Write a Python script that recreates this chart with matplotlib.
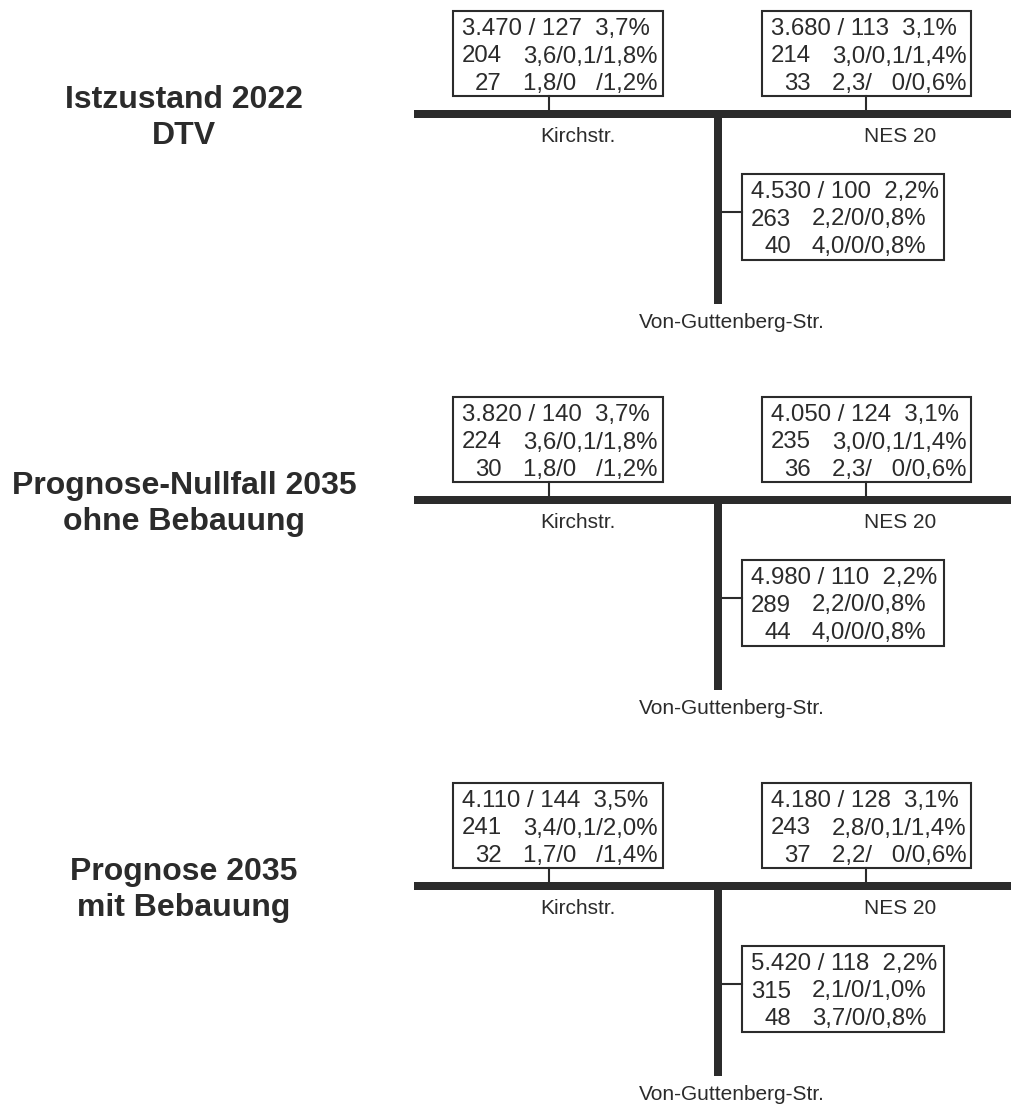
import matplotlib.pyplot as plt
from matplotlib.patches import Rectangle

plt.rcParams['font.family'] = ['Liberation Sans', 'DejaVu Sans']

INK = '#2b2b2b'

# section titles
titles = [("Istzustand 2022", "DTV"),
          ("Prognose-Nullfall 2035", "ohne Bebauung"),
          ("Prognose 2035", "mit Bebauung")]

# street names
street_names = ["Kirchstr.", "NES 20", "Von-Guttenberg-Str."]

# Kirchstr. box, one entry per section
kirch_row1 = ["3.470 / 127  3,7%", "3.820 / 140  3,7%", "4.110 / 144  3,5%"]
kirch_n2 = ["204", "224", "241"]
kirch_r2 = ["3,6/0,1/1,8%", "3,6/0,1/1,8%", "3,4/0,1/2,0%"]
kirch_n3 = ["27", "30", "32"]
kirch_r3 = ["1,8/0   /1,2%", "1,8/0   /1,2%", "1,7/0   /1,4%"]

# NES 20 box
nes_row1 = ["3.680 / 113  3,1%", "4.050 / 124  3,1%", "4.180 / 128  3,1%"]
nes_n2 = ["214", "235", "243"]
nes_r2 = ["3,0/0,1/1,4%", "3,0/0,1/1,4%", "2,8/0,1/1,4%"]
nes_n3 = ["33", "36", "37"]
nes_r3 = ["2,3/   0/0,6%", "2,3/   0/0,6%", "2,2/   0/0,6%"]

# Von-Guttenberg-Str. box
vg_row1 = ["4.530 / 100  2,2%", "4.980 / 110  2,2%", "5.420 / 118  2,2%"]
vg_n2 = ["263", "289", "315"]
vg_r2 = ["2,2/0/0,8%", "2,2/0/0,8%", "2,1/0/1,0%"]
vg_n3 = ["40", "44", "48"]
vg_r3 = ["4,0/0/0,8%", "4,0/0/0,8%", "3,7/0/0,8%"]

fig = plt.figure(figsize=(10.11, 11.04), dpi=100)
ax = fig.add_axes([0, 0, 1, 1])
ax.set_xlim(0, 1011)
ax.set_ylim(1104, 0)
ax.axis('off')

SEC = 386  # vertical distance between the three diagrams


def draw_box(x, y, w, h, row1, n2, r2, n3, r3):
    ax.add_patch(Rectangle((x, y), w, h, fill=False, ec=INK, lw=1.5))
    fs = 17.3
    tx = x + 9
    ax.text(tx, y + 24, row1, fontsize=fs, color=INK, va='baseline', ha='left')
    ax.text(x + 49, y + 51.5, n2, fontsize=fs, color=INK, va='baseline', ha='right')
    ax.text(x + 70, y + 51.5, r2, fontsize=fs, color=INK, va='baseline', ha='left')
    ax.text(x + 49, y + 79, n3, fontsize=fs, color=INK, va='baseline', ha='right')
    ax.text(x + 70, y + 79, r3, fontsize=fs, color=INK, va='baseline', ha='left')


for i in range(3):
    oy = i * SEC

    # title
    ax.text(184, oy + 108, titles[i][0], fontsize=23, fontweight='bold',
            color=INK, ha='center', va='baseline')
    ax.text(184, oy + 144, titles[i][1], fontsize=23, fontweight='bold',
            color=INK, ha='center', va='baseline')

    # roads
    ax.add_patch(Rectangle((414, oy + 110), 1011 - 414, 8, color=INK, lw=0))
    ax.add_patch(Rectangle((714, oy + 117), 8, 187, color=INK, lw=0))

    # connectors
    ax.plot([549, 549], [oy + 96, oy + 110], color=INK, lw=1.5)
    ax.plot([866, 866], [oy + 96, oy + 110], color=INK, lw=1.5)
    ax.plot([722, 742], [oy + 212, oy + 212], color=INK, lw=1.5)

    draw_box(453, oy + 11, 210, 85, kirch_row1[i], kirch_n2[i], kirch_r2[i],
             kirch_n3[i], kirch_r3[i])
    draw_box(762, oy + 11, 209, 85, nes_row1[i], nes_n2[i], nes_r2[i],
             nes_n3[i], nes_r3[i])
    draw_box(742, oy + 174, 202, 86, vg_row1[i], vg_n2[i], vg_r2[i],
             vg_n3[i], vg_r3[i])

    # street labels
    ax.text(578, oy + 142, street_names[0], fontsize=15, color=INK,
            ha='center', va='baseline')
    ax.text(900, oy + 142, street_names[1], fontsize=15, color=INK,
            ha='center', va='baseline')
    ax.text(732, oy + 328, street_names[2], fontsize=15, color=INK,
            ha='center', va='baseline')

fig.savefig('out.png', dpi=100, facecolor='white')
